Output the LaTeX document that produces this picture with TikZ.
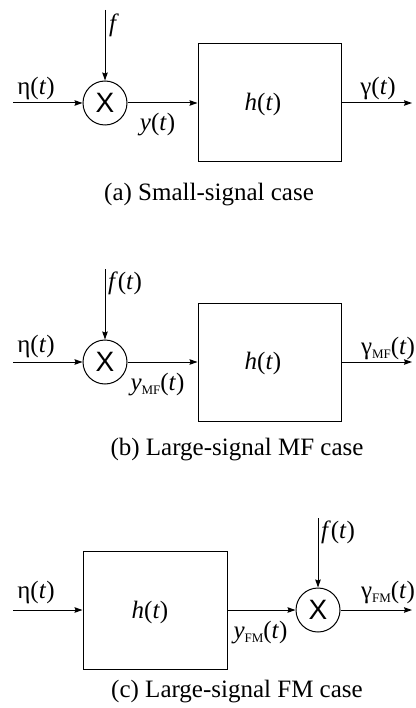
\documentclass[tikz,border=0pt]{standalone}
\usepackage{fontspec}
\usepackage{graphicx}
\setmainfont{Liberation Serif}
\newfontfamily\mulfont{Liberation Sans}
\usetikzlibrary{arrows.meta}
\newcommand{\lowsub}[1]{\raisebox{-4pt}{\scalebox{.52}{#1}}}
\tikzset{
  bd arrow/.style={line width=1pt,-{Stealth[length=8pt,width=5.5pt,inset=1pt]}},
  bd box/.style={draw,line width=1pt,inner sep=0pt,minimum width=143pt,minimum height=118pt},
  bd mix/.style={draw,circle,line width=1pt,inner sep=0pt,minimum size=44pt,font=\mulfont\fontsize{28}{30}\selectfont},
  bd label/.style={inner sep=0pt,font=\fontsize{25}{30}\selectfont}
}

\begin{document}
\begin{tikzpicture}[x=1pt,y=-1pt]
  \useasboundingbox (0,0) rectangle (415,708);
  % (a) small-signal case
  \node[bd mix] (mulA) at (105,103) {X};
  \node[bd box] (boxA) at (269.5,103) {};
  \coordinate (inA) at (13,103);
  \coordinate (fA) at (105,10);
  \coordinate (outA) at (412,103);
  \draw[bd arrow] (inA) -- (mulA);
  \draw[bd arrow] (fA) -- (mulA);
  \draw[bd arrow] (mulA) -- (boxA);
  \draw[bd arrow] (boxA) -- (outA);
  \node[bd label] (etaA) at (36,88) {η(\textit{t})};
  \node[bd label] (fLabA) at (114,25) {\textit{f}};
  \node[bd label] (yA) at (157.5,125) {\textit{y}(\textit{t})};
  \node[bd label] (hA) at (263,104) {\textit{h}(\textit{t})};
  \node[bd label] (gamA) at (378,88) {γ(\textit{t})};
  \node[bd label] (capA) at (209,195) {(a) Small-signal case};
  % (b) large-signal MF case
  \node[bd mix] (mulB) at (105,362) {X};
  \node[bd box] (boxB) at (269.5,362) {};
  \coordinate (inB) at (13,362);
  \coordinate (fB) at (105,269);
  \coordinate (outB) at (412,362);
  \draw[bd arrow] (inB) -- (mulB);
  \draw[bd arrow] (fB) -- (mulB);
  \draw[bd arrow] (mulB) -- (boxB);
  \draw[bd arrow] (boxB) -- (outB);
  \node[bd label] (etaB) at (36,346) {η(\textit{t})};
  \node[bd label] (fLabB) at (125,283) {\textit{f}(\textit{t})};
  \node[bd label] (yB) at (157.5,385) {\textit{y}\lowsub{MF}(\textit{t})};
  \node[bd label] (hB) at (263,363) {\textit{h}(\textit{t})};
  \node[bd label] (gamB) at (388,348) {γ\lowsub{MF}(\textit{t})};
  \node[bd label] (capB) at (237,450) {(b) Large-signal MF case};
  % (c) large-signal FM case
  \node[bd box,minimum width=144pt] (boxC) at (155,610) {};
  \node[bd mix] (mulC) at (318,610) {X};
  \coordinate (inC) at (13,610);
  \coordinate (fC) at (318,518);
  \coordinate (outC) at (412,610);
  \draw[bd arrow] (inC) -- (boxC);
  \draw[bd arrow] (boxC) -- (mulC);
  \draw[bd arrow] (fC) -- (mulC);
  \draw[bd arrow] (mulC) -- (outC);
  \node[bd label] (etaC) at (36,592) {η(\textit{t})};
  \node[bd label] (hC) at (150,612) {\textit{h}(\textit{t})};
  \node[bd label] (yC) at (260.5,633) {\textit{y}\lowsub{FM}(\textit{t})};
  \node[bd label] (fLabC) at (338,532) {\textit{f}(\textit{t})};
  \node[bd label] (gamC) at (388,592) {γ\lowsub{FM}(\textit{t})};
  \node[bd label] (capC) at (237,692) {(c) Large-signal FM case};
\end{tikzpicture}
\end{document}
